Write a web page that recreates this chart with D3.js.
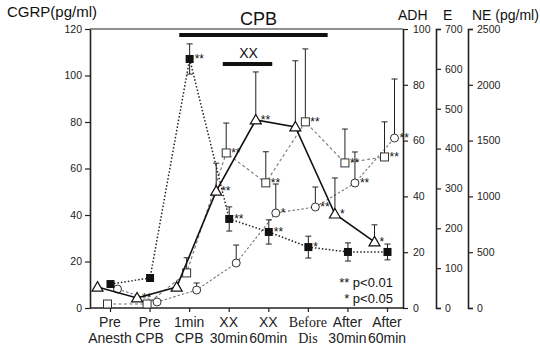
<!DOCTYPE html>
<html>
<head>
<meta charset="utf-8">
<script src="https://cdn.jsdelivr.net/npm/d3@7"></script>
<style>
  body { margin: 0; background: #fff; }
  svg { font-family: "Liberation Sans", Arial, sans-serif; }
</style>
</head>
<body>
<div id="chart"></div>
<script>
// time points (two-line labels)
const categories = [["Pre", "Anesth"], ["Pre", "CPB"], ["1min", "CPB"], ["XX", "30min"], ["XX", "60min"], ["Before", "Dis"], ["After", "30min"], ["After", "60min"]];

// CGRP (filled squares, left axis)
const cgrp = [10.3, 12.9, 107.1, 38.3, 32.7, 26.2, 24.1, 24.1];
const cgrpSd = [0, 0, 6.5, 5.2, 5.2, 4.7, 3.9, 3.4];
const cgrpSig = ["", "", "**", "**", "**", "*", "", ""];

// ADH (open triangles, solid line)
const adh = [7.5, 3.6, 7.5, 41.9, 67.4, 64.9, 33.7, 23.7];
const adhSd = [0, 0, 0, 10, 17.2, 23.7, 12.9, 6.1];
const adhSig = ["", "**", "", "**", "**", "", "*", "*"];

// E (open squares)
const epi = [10, 10, 88, 389, 314, 467, 364, 379];
const epiSd = [0, 0, 38, 75, 78, 183, 85, 88];
const epiSig = ["", "", "", "**", "**", "**", "**", "**"];

// NE (open circles)
const ne = [170, 54, 161, 403, 851, 905, 1120, 1523];
const neSd = [0, 0, 63, 161, 260, 179, 278, 529];
const neSig = ["", "", "", "", "*", "**", "**", "**"];

const cgrpTicks = [0, 20, 40, 60, 80, 100, 120];
const adhTicks = [0, 20, 40, 60, 80, 100];
const eTicks = [0, 100, 200, 300, 400, 500, 600, 700];
const neTicks = [0, 500, 1000, 1500, 2000, 2500];

const width = 540, height = 351;
const plotL = 90, plotR = 403, plotT = 29, plotB = 308;

const svg = d3.select('#chart').append('svg')
  .attr('width', width)
  .attr('height', height);

const keys = categories.map(c => c.join(' '));
const x = d3.scalePoint().domain(keys).range([110, 387]);
const step = x.step();

const yL = d3.scaleLinear().domain([0, 120]).range([plotB, plotT]);
const yA = d3.scaleLinear().domain([0, 100]).range([plotB, plotT]);
const yE = d3.scaleLinear().domain([0, 700]).range([plotB, plotT]);
const yN = d3.scaleLinear().domain([0, 2500]).range([plotB, plotT]);

// frame: top border and bottom axis line
svg.append('line').attr('x1', plotL).attr('x2', plotR).attr('y1', plotT).attr('y2', plotT)
  .attr('stroke', '#222').attr('stroke-width', 1.2);
svg.append('line').attr('x1', plotL).attr('x2', plotR).attr('y1', plotB).attr('y2', plotB)
  .attr('stroke', '#222').attr('stroke-width', 1.6);

function styleAxis(g, fs) {
  g.select('.domain').attr('stroke', '#222').attr('stroke-width', 1.6);
  g.selectAll('.tick line').attr('stroke', '#222').attr('stroke-width', 1.2);
  g.selectAll('.tick text').attr('fill', '#222').style('font-size', fs + 'px');
}

svg.append('g').attr('transform', `translate(${plotL},0)`)
  .call(d3.axisLeft(yL).tickValues(cgrpTicks).tickSize(5).tickSizeOuter(0).tickPadding(3))
  .call(g => styleAxis(g, 10.5));

svg.append('g').attr('transform', `translate(${plotR},0)`)
  .call(d3.axisRight(yA).tickValues(adhTicks).tickSize(5).tickSizeOuter(0).tickPadding(5))
  .call(g => styleAxis(g, 10.5));

svg.append('g').attr('transform', 'translate(436,0)')
  .call(d3.axisRight(yE).tickValues(eTicks).tickSize(5).tickSizeOuter(5).tickPadding(4))
  .call(g => styleAxis(g, 10.5));

svg.append('g').attr('transform', 'translate(468,0)')
  .call(d3.axisRight(yN).tickValues(neTicks).tickFormat(d3.format('d')).tickSize(5).tickSizeOuter(5).tickPadding(4))
  .call(g => styleAxis(g, 10.5));

const xAxis = svg.append('g').attr('transform', `translate(0,${plotB})`)
  .call(d3.axisBottom(x).tickSize(4).tickSizeOuter(0).tickFormat(''));
xAxis.select('.domain').remove();
xAxis.selectAll('.tick line').attr('stroke', '#222').attr('stroke-width', 1.2);

categories.forEach((c, i) => {
  const t = svg.append('text')
    .attr('x', x(keys[i]))
    .attr('text-anchor', 'middle')
    .attr('fill', '#222')
    .style('font-size', '14px')
    .style('font-family', i === 5 ? '"Liberation Serif", serif' : null);
  t.append('tspan').attr('x', x(keys[i])).attr('y', 327).text(c[0]);
  t.append('tspan').attr('x', x(keys[i])).attr('y', 343).text(c[1]);
});

// headers
svg.append('text').attr('x', 7).attr('y', 17).style('font-size', '15px').attr('fill', '#111').text('CGRP(pg/ml)');
svg.append('text').attr('x', 398).attr('y', 20).style('font-size', '14px').attr('fill', '#111').text('ADH');
svg.append('text').attr('x', 443).attr('y', 20).style('font-size', '14px').attr('fill', '#111').text('E');
svg.append('text').attr('x', 472).attr('y', 20).style('font-size', '14px').attr('fill', '#111').text('NE (pg/ml)');

// CPB and XX bars
const cpbX0 = x(keys[2]) - step * 0.25, cpbX1 = x(keys[5]) + step * 0.5;
svg.append('rect').attr('x', cpbX0).attr('y', 33).attr('width', cpbX1 - cpbX0).attr('height', 4).attr('fill', '#111');
svg.append('text').attr('x', (cpbX0 + cpbX1) / 2 + 5).attr('y', 25).attr('text-anchor', 'middle')
  .style('font-size', '18px').attr('fill', '#111').text('CPB');
const xxX0 = x(keys[3]) - step * 0.15, xxX1 = x(keys[4]) + step * 0.1;
svg.append('rect').attr('x', xxX0).attr('y', 62).attr('width', xxX1 - xxX0).attr('height', 4).attr('fill', '#111');
svg.append('text').attr('x', (xxX0 + xxX1) / 2 + 1).attr('y', 58).attr('text-anchor', 'middle')
  .style('font-size', '14px').attr('fill', '#111').text('XX');

const series = [
  { vals: ne, sd: neSd, sig: neSig, y: yN, dx: 7.5, color: '#777', dash: '2.5,2', width: 1.1, shape: 'circle', both: false },
  { vals: epi, sd: epiSd, sig: epiSig, y: yE, dx: -2.5, color: '#777', dash: '3,2.5', width: 1.1, shape: 'square', both: false },
  { vals: cgrp, sd: cgrpSd, sig: cgrpSig, y: yL, dx: 0.5, color: '#222', dash: '1.5,2', width: 1.5, shape: 'filled', both: true },
  { vals: adh, sd: adhSd, sig: adhSig, y: yA, dx: -12.5, color: '#111', dash: null, width: 1.6, shape: 'triangle', both: false }
];

series.forEach(s => {
  const pts = s.vals.map((v, i) => ({ k: keys[i], v: v, sd: s.sd[i], sig: s.sig[i] }));
  const px = d => x(d.k) + s.dx;

  svg.append('path')
    .datum(pts)
    .attr('fill', 'none')
    .attr('stroke', s.color)
    .attr('stroke-width', s.width)
    .attr('stroke-dasharray', s.dash)
    .attr('d', d3.line().x(px).y(d => s.y(d.v)));

  const eb = svg.append('g').attr('stroke', '#222').attr('stroke-width', 1);
  pts.filter(d => d.sd > 0).forEach(d => {
    const cx = px(d);
    const yTop = s.y(d.v + d.sd), yBot = s.both ? s.y(d.v - d.sd) : s.y(d.v);
    eb.append('line').attr('x1', cx).attr('x2', cx).attr('y1', yTop).attr('y2', yBot);
    eb.append('line').attr('x1', cx - 3).attr('x2', cx + 3).attr('y1', yTop).attr('y2', yTop);
    if (s.both) eb.append('line').attr('x1', cx - 3).attr('x2', cx + 3).attr('y1', yBot).attr('y2', yBot);
  });

  const m = svg.append('g');
  pts.forEach(d => {
    const cx = px(d), cy = s.y(d.v);
    if (s.shape === 'circle') {
      m.append('circle').attr('cx', cx).attr('cy', cy).attr('r', 4)
        .attr('fill', '#fff').attr('stroke', '#333').attr('stroke-width', 1);
    } else if (s.shape === 'square') {
      m.append('rect').attr('x', cx - 4).attr('y', cy - 4).attr('width', 8).attr('height', 8)
        .attr('fill', '#fff').attr('stroke', '#333').attr('stroke-width', 1);
    } else if (s.shape === 'filled') {
      m.append('rect').attr('x', cx - 4).attr('y', cy - 4).attr('width', 8).attr('height', 8)
        .attr('fill', '#111');
    } else {
      m.append('path').attr('transform', `translate(${cx},${cy})`)
        .attr('d', 'M0,-5.5L5.5,4L-5.5,4Z')
        .attr('fill', '#fff').attr('stroke', '#111').attr('stroke-width', 1.2);
    }
    if (d.sig) {
      m.append('text').attr('x', cx + 5).attr('y', cy + 4)
        .style('font-size', '12px').attr('fill', '#111').text(d.sig);
    }
  });
});

// significance legend
svg.append('text').attr('x', 393).attr('y', 287).attr('text-anchor', 'end')
  .style('font-size', '13px').attr('fill', '#111').text('** p<0.01');
svg.append('text').attr('x', 393).attr('y', 303).attr('text-anchor', 'end')
  .style('font-size', '13px').attr('fill', '#111').text('* p<0.05');
</script>
</body>
</html>
